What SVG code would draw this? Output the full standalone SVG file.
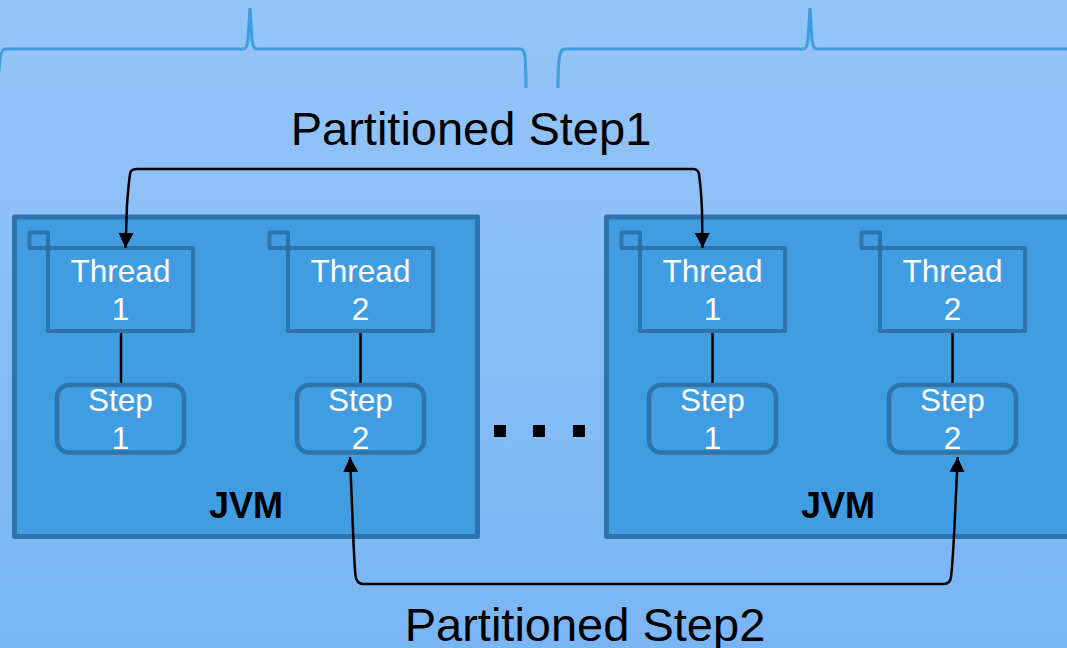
<svg xmlns="http://www.w3.org/2000/svg" width="1067" height="648" viewBox="0 0 1067 648">
  <defs>
    <linearGradient id="bg" x1="0" y1="0" x2="0" y2="1">
      <stop offset="0" stop-color="#95C5F8"/>
      <stop offset="1" stop-color="#79B5F5"/>
    </linearGradient>
    <marker id="arr" viewBox="0 0 15 15" refX="15" refY="7.5" markerWidth="15" markerHeight="15" markerUnits="userSpaceOnUse" orient="auto-start-reverse">
      <path d="M0,0 L15,7.5 L0,15 z" fill="#000"/>
    </marker>
    <style>
      .jvm { fill: #419DE2; stroke: #2E74AA; stroke-width: 5; stroke-linejoin: round; }
      .box { fill: #419DE2; stroke: #2E74AA; stroke-width: 4; stroke-linejoin: round; }
      .step { fill: #419DE2; stroke: #2E74AA; stroke-width: 4.5; }
      .brace { fill: none; stroke: #3E9CE2; stroke-width: 3; }
      .wt { font-family: "Liberation Sans", Arial, sans-serif; font-size: 31.5px; fill: #FFFFFF; text-anchor: middle; }
      .jt { font-family: "Liberation Sans", Arial, sans-serif; font-size: 36px; font-weight: bold; fill: #000; text-anchor: middle; }
      .lbl { font-family: "Liberation Sans", Arial, sans-serif; font-size: 47px; fill: #000; text-anchor: middle; }
      .link { stroke: #000; stroke-width: 2.5; fill: none; }
      .conn { stroke: #000; stroke-width: 2.5; fill: none; }
    </style>
  </defs>

  <rect x="0" y="0" width="1067" height="648" fill="url(#bg)"/>

  <g id="braces">
    <path class="brace" d="M -1 72 Q 0 51 4 49 L 243 49 Q 247 49 248 40 Q 249.5 15 250 8 Q 250.5 15 252 40 Q 253 49 257 49 L 520 49 Q 524 49 525 56 Q 526 70 526 88"/>
    <path class="brace" d="M 558 88 Q 558 62 560 55 Q 561 49 565 49 L 803 49 Q 807 49 808 40 Q 809.5 15 810 8 Q 810.5 15 812 40 Q 813 49 817 49 L 1070 49"/>
  </g>

  <g id="jvm1">
    <rect class="jvm" x="14.5" y="217" width="463" height="319.5"/>
    <text class="jt" x="246" y="518">JVM</text>
  </g>
  <g id="jvm2">
    <rect class="jvm" x="606.5" y="217" width="480" height="319.5"/>
    <text class="jt" x="838" y="518">JVM</text>
  </g>

  <g id="links">
    <line class="link" x1="121" y1="333" x2="121" y2="385"/>
    <line class="link" x1="360.5" y1="333" x2="360.5" y2="385"/>
    <line class="link" x1="712.5" y1="333" x2="712.5" y2="385"/>
    <line class="link" x1="952.5" y1="333" x2="952.5" y2="385"/>
  </g>

  <g id="thread1a">
    <rect class="box" x="29.5" y="232.5" width="18.5" height="15.5"/>
    <rect class="box" x="48" y="248" width="145" height="83"/>
    <text class="wt" x="120.5" y="282">Thread</text>
    <text class="wt" x="120.5" y="320">1</text>
  </g>
  <g id="thread2a">
    <rect class="box" x="269.5" y="232.5" width="18.5" height="15.5"/>
    <rect class="box" x="288" y="248" width="145" height="83"/>
    <text class="wt" x="360.5" y="282">Thread</text>
    <text class="wt" x="360.5" y="320">2</text>
  </g>
  <g id="thread1b">
    <rect class="box" x="621.5" y="232.5" width="18.5" height="15.5"/>
    <rect class="box" x="640" y="248" width="145" height="83"/>
    <text class="wt" x="712.5" y="282">Thread</text>
    <text class="wt" x="712.5" y="320">1</text>
  </g>
  <g id="thread2b">
    <rect class="box" x="861.5" y="232.5" width="18.5" height="15.5"/>
    <rect class="box" x="880" y="248" width="145" height="83"/>
    <text class="wt" x="952.5" y="282">Thread</text>
    <text class="wt" x="952.5" y="320">2</text>
  </g>

  <g id="step1a">
    <rect class="step" x="57" y="385" width="127" height="67.5" rx="12"/>
    <text class="wt" x="120.5" y="411">Step</text>
    <text class="wt" x="120.5" y="449">1</text>
  </g>
  <g id="step2a">
    <rect class="step" x="297" y="385" width="127" height="67.5" rx="12"/>
    <text class="wt" x="360.5" y="411">Step</text>
    <text class="wt" x="360.5" y="449">2</text>
  </g>
  <g id="step1b">
    <rect class="step" x="649" y="385" width="127" height="67.5" rx="12"/>
    <text class="wt" x="712.5" y="411">Step</text>
    <text class="wt" x="712.5" y="449">1</text>
  </g>
  <g id="step2b">
    <rect class="step" x="889" y="385" width="127" height="67.5" rx="12"/>
    <text class="wt" x="952.5" y="411">Step</text>
    <text class="wt" x="952.5" y="449">2</text>
  </g>

  <g id="dots">
    <rect x="494" y="425" width="12" height="12" fill="#000"/>
    <rect x="533" y="425" width="12" height="12" fill="#000"/>
    <rect x="573" y="425" width="12" height="12" fill="#000"/>
  </g>

  <g id="connectors">
    <path class="conn" marker-start="url(#arr)" marker-end="url(#arr)" d="M 125.5 248 L 127 205 Q 129 178 130.5 172 Q 132 169 137 169 L 693 169 Q 698 169 699 174 Q 701 188 702 210 L 702.5 248"/>
    <path class="conn" marker-start="url(#arr)" marker-end="url(#arr)" d="M 350 457 L 352 505 Q 354 560 355.5 576 Q 357 584 363 584 L 944 584 Q 950 584 951 577 Q 953 560 955 515 L 957.7 457"/>
  </g>

  <g id="labels">
    <text class="lbl" x="471" y="145">Partitioned Step1</text>
    <text class="lbl" x="585" y="641">Partitioned Step2</text>
  </g>
</svg>
